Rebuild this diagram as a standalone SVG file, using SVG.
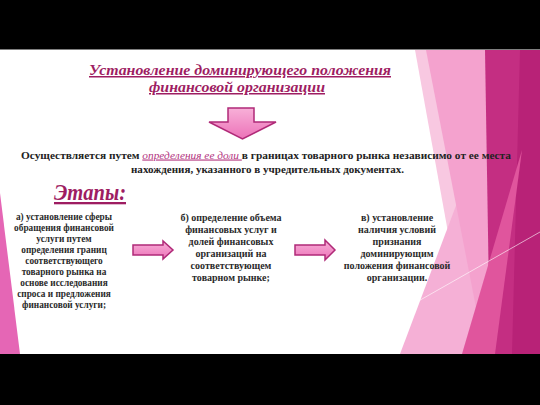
<svg xmlns="http://www.w3.org/2000/svg" width="540" height="405" viewBox="0 0 540 405">
<defs>
<linearGradient id="ag" x1="0" y1="0" x2="0" y2="1">
<stop offset="0" stop-color="#f8b0d8"/>
<stop offset="1" stop-color="#ec72b8"/>
</linearGradient>
<style>
text{font-family:'Liberation Serif','DejaVu Serif',serif;}
.title{font-weight:bold;font-style:italic;fill:#9e1d62;text-decoration:underline;}
.body{font-weight:bold;fill:#222;font-size:11px;}
.em{font-style:italic;font-weight:normal;fill:#b3357f;text-decoration:underline;}
.col{font-weight:bold;fill:#2a2a2a;font-size:10px;text-anchor:middle;}
.cola{font-size:9.3px;}
.arrow{fill:url(#ag);stroke:#b02a78;stroke-width:1.5;stroke-linejoin:miter;}
</style>
</defs>
<rect x="0" y="0" width="540" height="405" fill="#ffffff"/>
<g id="decor">
<polygon points="0,193 20,354 0,354" fill="#e566b5"/>
<polygon points="415,50 540,50 540,354 470,354" fill="#f8c8e1"/>
<polygon points="400,354 460,195 490,354" fill="#f5b0d6"/>
<polygon points="426,50 490,50 490,354 485,354" fill="#f4a2ce"/>
<polygon points="485,50 540,50 540,354 490,354" fill="#c42e82"/>
<polygon points="520,50 540,50 540,354 512,354" fill="#b82277"/>
<polygon points="522,150 462,354 495,354" fill="#e0559d"/>
<line x1="378" y1="324" x2="540" y2="232" stroke="#ffffff" stroke-opacity="0.6" stroke-width="1"/>
</g>
<rect x="0" y="0" width="540" height="49.5" fill="#000"/>
<rect x="0" y="354" width="540" height="51" fill="#000"/>
<g id="title">
<text class="title" x="89" y="75" font-size="15" textLength="302" lengthAdjust="spacingAndGlyphs">Установление доминирующего положения</text>
<text class="title" x="149" y="92" font-size="15" textLength="176" lengthAdjust="spacingAndGlyphs">финансовой организации</text>
</g>
<g id="desc">
<text class="body" x="21" y="158.5" textLength="490" lengthAdjust="spacingAndGlyphs">Осуществляется путем <tspan class="em">определения ее доли </tspan>в границах товарного рынка независимо от ее места</text>
<text class="body" x="131" y="172.5" textLength="273" lengthAdjust="spacingAndGlyphs">нахождения, указанного в учредительных документах.</text>
</g>
<g id="stages">
<text class="title" x="54" y="200" font-size="23" fill="#a3206a" textLength="72" lengthAdjust="spacingAndGlyphs">Этапы:</text>
</g>
<g id="node-a">
<text class="col cola" x="64" y="219.8">а) установление сферы</text>
<text class="col cola" x="64" y="230.8">обращения финансовой</text>
<text class="col cola" x="64" y="241.8">услуги путем</text>
<text class="col cola" x="64" y="252.8">определения границ</text>
<text class="col cola" x="64" y="263.8">соответствующего</text>
<text class="col cola" x="64" y="274.8">товарного рынка на</text>
<text class="col cola" x="64" y="285.8">основе исследования</text>
<text class="col cola" x="64" y="296.8">спроса и предложения</text>
<text class="col cola" x="64" y="307.8">финансовой услуги;</text>
</g>
<g id="node-b">
<text class="col" x="231" y="220.5">б) определение объема</text>
<text class="col" x="231" y="232.5">финансовых услуг и</text>
<text class="col" x="231" y="244.5">долей финансовых</text>
<text class="col" x="231" y="256.5">организаций на</text>
<text class="col" x="231" y="268.5">соответствующем</text>
<text class="col" x="231" y="280.5">товарном рынке;</text>
</g>
<g id="node-c">
<text class="col" x="397" y="221">в) установление</text>
<text class="col" x="397" y="233">наличия условий</text>
<text class="col" x="397" y="245">признания</text>
<text class="col" x="397" y="257">доминирующим</text>
<text class="col" x="397" y="269">положения финансовой</text>
<text class="col" x="397" y="281">организации.</text>
</g>
<g id="connectors">
<path class="arrow" d="M228,108 H254 V122 H276 L242.5,139 L209,122 H228 Z"/>
<path class="arrow" d="M133,245 H163 V241 L173,250 L163,259 V255 H133 Z"/>
<path class="arrow" d="M295,245 H325 V240 L335,250 L325,260 V255 H295 Z"/>
</g>
</svg>
